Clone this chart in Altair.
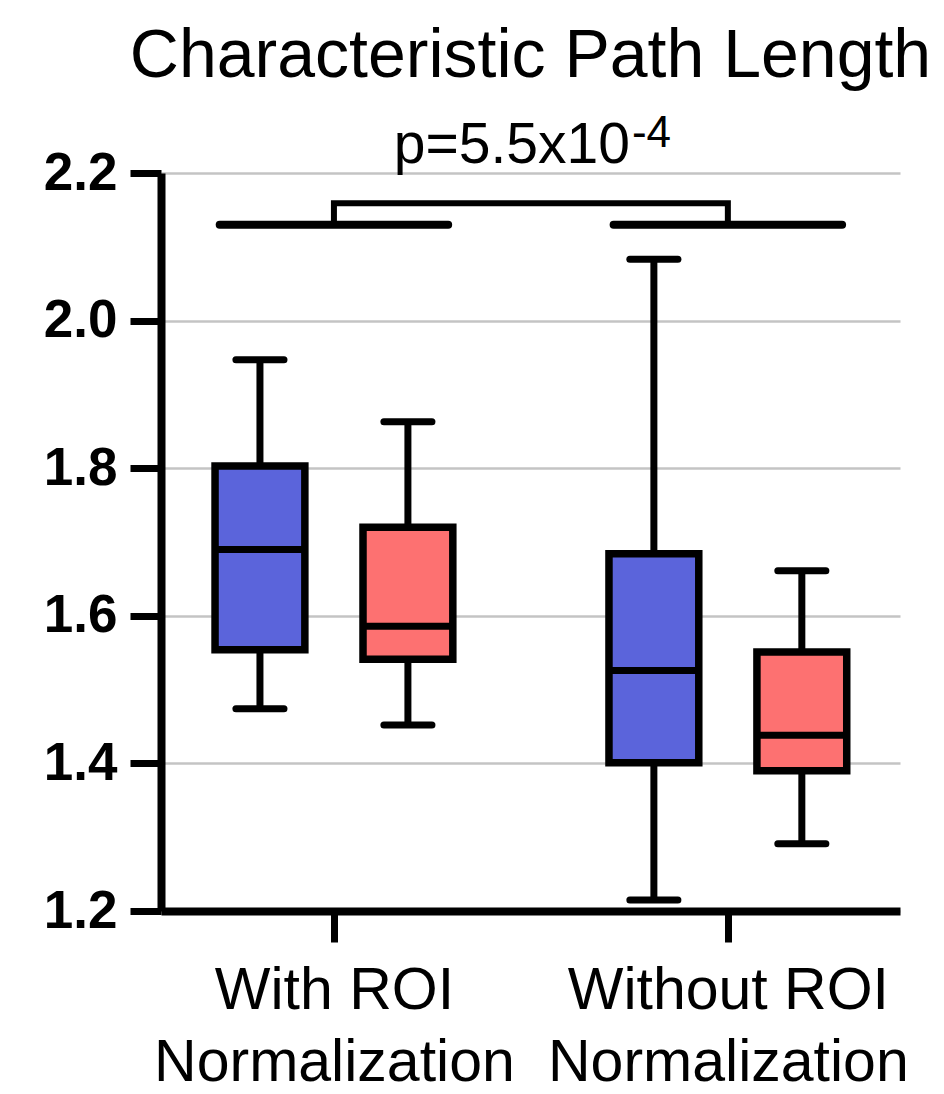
import altair as alt
import pandas as pd

# ---------------- data ----------------
group_names = ["With ROI Normalization", "Without ROI Normalization"]
group_label_lines = [["With ROI", "Normalization"], ["Without ROI", "Normalization"]]
series_names = ["Series 1", "Series 2"]
series_colors = ["#5b64db", "#fd7171"]

box_group = [0, 0, 1, 1]
box_series = [0, 1, 0, 1]
box_min = [1.474, 1.452, 1.215, 1.291]
box_q1 = [1.554, 1.541, 1.401, 1.390]
box_median = [1.690, 1.586, 1.526, 1.438]
box_q3 = [1.803, 1.720, 1.684, 1.551]
box_max = [1.947, 1.863, 2.083, 1.661]

y_ticks = [1.2, 1.4, 1.6, 1.8, 2.0, 2.2]
title_text = "Characteristic Path Length"
p_main = "p=5.5x10"
p_exp = "-4"
bracket_low = 2.130
bracket_high = 2.159

# ---------------- layout constants ----------------
OFFSET = 0.1878     # series offset from group centre (x units)
HALF_BOX = 0.114
HALF_CAP = 0.061
HALF_GROUP_LINE = 0.29
X_DOMAIN = [-0.439, 1.437]
FONT = "Liberation Sans"

rows = []
for g, s, mn, q1, md, q3, mx in zip(box_group, box_series, box_min, box_q1,
                                    box_median, box_q3, box_max):
    pos = g + (s - 0.5) * 2 * OFFSET
    rows.append(dict(group=group_names[g], series=series_names[s], pos=pos,
                     left=pos - HALF_BOX, right=pos + HALF_BOX,
                     cap_l=pos - HALF_CAP, cap_r=pos + HALF_CAP,
                     min=mn, q1=q1, median=md, q3=q3, max=mx))
df = pd.DataFrame(rows)

gdf = pd.DataFrame(dict(
    g=list(range(len(group_names))),
    l=[i - HALF_GROUP_LINE for i in range(len(group_names))],
    r=[i + HALF_GROUP_LINE for i in range(len(group_names))],
    y=[bracket_low] * len(group_names)))

bdf = pd.DataFrame(dict(
    x=[0, 0, 1, 1],
    y=[bracket_low, bracket_high, bracket_high, bracket_low],
    o=[0, 1, 2, 3]))

pdf = pd.DataFrame(dict(x=[0.5], t1=[p_main], t2=[p_exp]))

# ---------------- scales / axes ----------------
label_expr = "datum.value == 0 ? {} : {}".format(
    str(group_label_lines[0]), str(group_label_lines[1]))

xscale = alt.Scale(domain=X_DOMAIN, nice=False, zero=False)
yscale = alt.Scale(domain=[1.2, 2.2], nice=False, zero=False)

xaxis = alt.Axis(values=[0, 1], labelExpr=label_expr, labelFont=FONT,
                 labelFontSize=59, labelColor="black", labelAngle=0,
                 labelPadding=19, labelLineHeight=72, labelFlush=False,
                 labelOverlap=False, labelLimit=0, tickSize=31, tickWidth=7,
                 tickColor="black", domainColor="black", domainWidth=8,
                 grid=False, title=None)
yaxis = alt.Axis(values=y_ticks, format=".1f", labelFont=FONT,
                 labelFontWeight="bold", labelFontSize=53, labelColor="black",
                 labelPadding=13, labelFlush=False, labelLimit=0,
                 tickSize=31, tickWidth=7,
                 tickColor="black", domainColor="black", domainWidth=8,
                 grid=True, gridColor="#c4c4c4", gridWidth=2.5, title=None)


def X(f):
    return alt.X(f, type="quantitative", scale=xscale, axis=xaxis)


def Y(f):
    return alt.Y(f, type="quantitative", scale=yscale, axis=yaxis)


base = alt.Chart(df)

wlow = base.mark_rule(color="black", strokeWidth=7).encode(
    x=X("pos"), y=Y("min"), y2="q1")
whigh = base.mark_rule(color="black", strokeWidth=7).encode(
    x=X("pos"), y=Y("q3"), y2="max")
cap_lo = base.mark_rule(color="black", strokeWidth=7, strokeCap="round").encode(
    x=X("cap_l"), x2="cap_r", y=Y("min"))
cap_hi = base.mark_rule(color="black", strokeWidth=7, strokeCap="round").encode(
    x=X("cap_l"), x2="cap_r", y=Y("max"))
boxes = base.mark_bar(stroke="black", strokeWidth=7.5, opacity=1).encode(
    x=X("left"), x2="right", y=Y("q1"), y2="q3",
    color=alt.Color("series:N",
                    scale=alt.Scale(domain=series_names, range=series_colors),
                    legend=None))
medians = base.mark_rule(color="black", strokeWidth=7).encode(
    x=X("left"), x2="right", y=Y("median"))

glines = alt.Chart(gdf).mark_rule(color="black", strokeWidth=8,
                                  strokeCap="round").encode(
    x=X("l"), x2="r", y=Y("y"))
bracket = alt.Chart(bdf).mark_line(color="black", strokeWidth=6,
                                   strokeJoin="miter").encode(
    x=X("x"), y=Y("y"), order="o:Q")

ptext = alt.Chart(pdf).mark_text(font=FONT, fontSize=57, color="black",
                                 align="right", baseline="alphabetic",
                                 dx=99).encode(
    x=X("x"), y=alt.value(-10), text="t1:N")
pexp = alt.Chart(pdf).mark_text(font=FONT, fontSize=44, color="black",
                                align="left", baseline="alphabetic",
                                dx=101).encode(
    x=X("x"), y=alt.value(-26), text="t2:N")

chart = alt.layer(wlow, whigh, cap_lo, cap_hi, boxes, medians, glines,
                  bracket, ptext, pexp).properties(
    width=739, height=738,
    background="white",
    title=alt.Title(title_text, font=FONT, fontSize=68, fontWeight="normal",
                    color="black", anchor="middle", offset=21),
    autosize=alt.AutoSizeParams(type="none"),
    padding={"left": 153, "top": 165, "right": 36, "bottom": 183},
).configure_view(stroke=None)

chart.save("out.html", embed_options={"renderer": "svg", "actions": False})
